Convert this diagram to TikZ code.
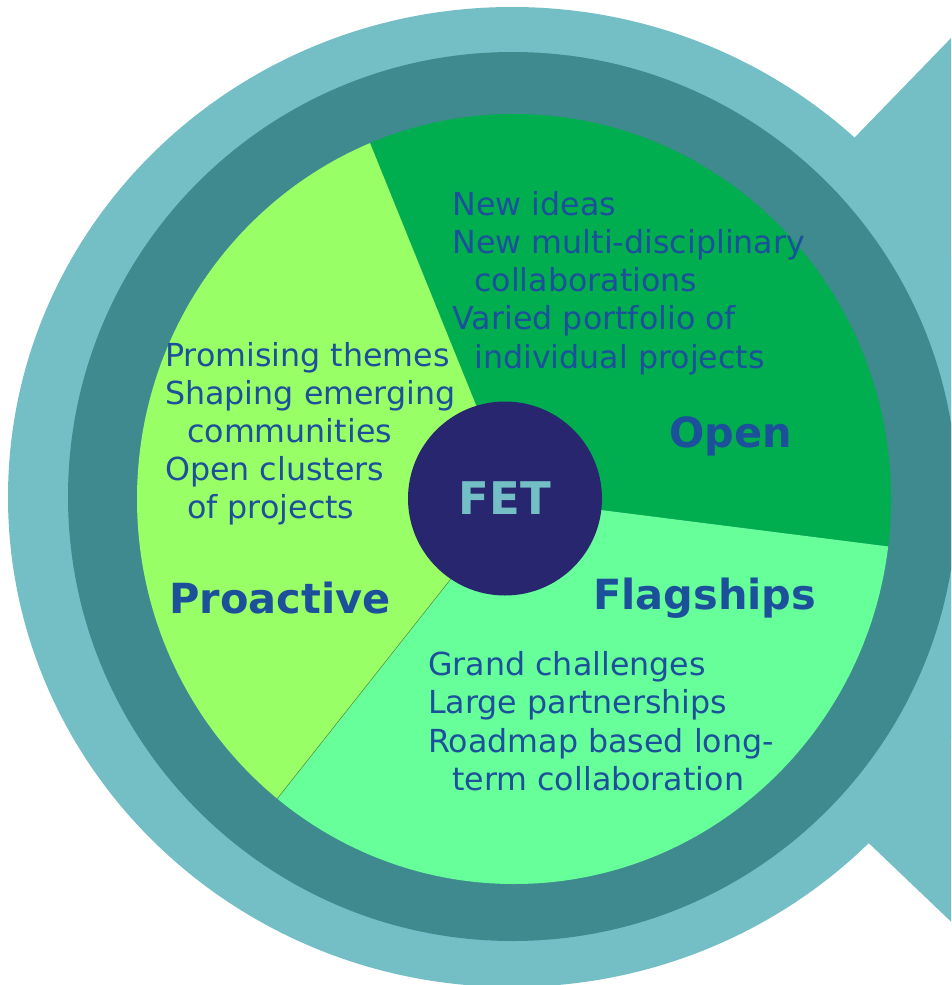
\documentclass[tikz,border=0pt]{standalone}
\usepackage{fontspec}
\newfontfamily\dejavu{DejaVu Sans}
\definecolor{lightteal}{RGB}{115,191,197}
\definecolor{darkteal}{RGB}{62,138,143}
\definecolor{opengreen}{RGB}{0,174,80}
\definecolor{proactgreen}{RGB}{153,255,102}
\definecolor{flaggreen}{RGB}{102,255,153}
\definecolor{fetblue}{RGB}{41,38,112}
\definecolor{txtblue}{RGB}{28,80,155}
\tikzset{
  itemtext/.style={anchor=base west, inner sep=0pt, text=txtblue,
    font=\dejavu\fontsize{31.7}{38}\selectfont},
  titletext/.style={anchor=base west, inner sep=0pt, text=txtblue,
    font=\dejavu\bfseries\fontsize{41.5}{48}\selectfont},
}
\begin{document}
\begin{tikzpicture}[x=1pt,y=-1pt]
\useasboundingbox (0,0) rectangle (951,985);
\clip (0,0) rectangle (951,985);
% outer light shape: ellipse + pointer to the right
\fill[lightteal] (512,497) ellipse [x radius=504pt, y radius=490pt];
\fill[lightteal] (506,497) -- (1051,-65) -- (1051,1017) -- cycle;
% dark ring
\fill[darkteal] (512.5,496.5) circle [radius=444.5pt];
% pie
\coordinate (c) at (514,499);
\coordinate (p1) at (226,-213);
\coordinate (p2) at (1263,594);
\coordinate (p3) at (40,1099);
\coordinate (b3) at (277,799);
\begin{scope}
  \clip (514,499) ellipse [x radius=377pt, y radius=385pt];
  \fill[opengreen] (c) -- (p1) -- (1263,-213) -- (p2) -- cycle;
  \fill[proactgreen] (c) -- (p1) -- (-300,-213) -- (-300,1099) -- (p3) -- cycle;
  \fill[flaggreen] (c) -- (p3) -- (1263,1099) -- (p2) -- cycle;
\end{scope}
\draw[line width=0.5pt, color=black!45!proactgreen] (c) -- (b3);
% centre
\node[circle, fill=fetblue, minimum size=194pt, inner sep=0pt,
      text=lightteal, font=\dejavu\bfseries\fontsize{45}{50}\selectfont] (fet) at (505,498.5) {FET};
% Open
\node[itemtext] (o1) at (452.5,215) {New ideas};
\node[itemtext] (o2) at (452.5,253) {New multi-disciplinary};
\node[itemtext] (o3) at (474,291) {collaborations};
\node[itemtext] (o4) at (452.5,329) {Varied portfolio of};
\node[itemtext] (o5) at (474,368) {individual projects};
\node[titletext] (open) at (669,447) {Open};
% Proactive
\node[itemtext] (a1) at (165,366) {Promising themes};
\node[itemtext] (a2) at (165,404) {Shaping emerging};
\node[itemtext] (a3) at (187,442) {communities};
\node[itemtext] (a4) at (165,480) {Open clusters};
\node[itemtext] (a5) at (187,518) {of projects};
\node[titletext] (proactive) at (169,613) {Proactive};
% Flagships
\node[titletext] (flag) at (593,609) {Flagships};
\node[itemtext] (f1) at (428,675) {Grand challenges};
\node[itemtext] (f2) at (428,713) {Large partnerships};
\node[itemtext] (f3) at (428,752) {Roadmap based long-};
\node[itemtext] (f4) at (452,790) {term collaboration};
\end{tikzpicture}
\end{document}
